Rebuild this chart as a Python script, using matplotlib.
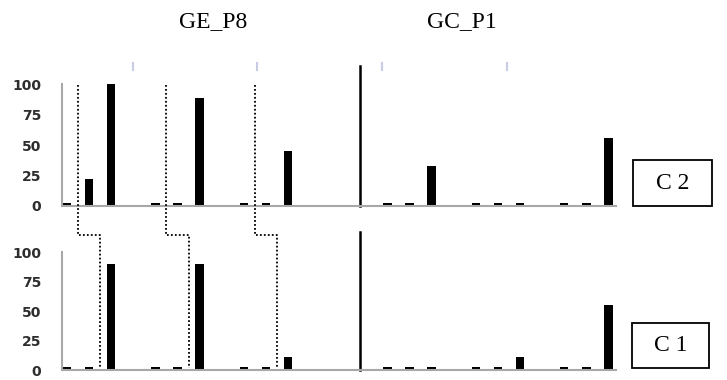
import matplotlib
matplotlib.use('Agg')
import matplotlib.pyplot as plt
from matplotlib.patches import Rectangle
from matplotlib.transforms import blended_transform_factory

# values, 3 bars per group, 3 groups per sample
group_names = ['GE_P8', 'GC_P1']
c2_ge = [2.5, 22, 100, 2.5, 2.5, 89, 2.5, 2.5, 45]
c2_gc = [2.5, 2.5, 33, 2.5, 2.5, 2.5, 2.5, 2.5, 56]
c1_ge = [2.5, 2.5, 90, 2.5, 2.5, 90, 2.5, 2.5, 11]
c1_gc = [2.5, 2.5, 2.5, 2.5, 2.5, 11, 2.5, 2.5, 55]
row_labels = ['C 2', 'C 1']
y_ticks = [0, 25, 50, 75, 100]

def bar_positions(values, start):
    # group of 3 bars, one empty slot between groups
    return [start + 4 * (i // 3) + i % 3 for i in range(len(values))]

fig = plt.figure(figsize=(7.27, 3.8), dpi=100)
ax_top = fig.add_axes([0.0853, 0.4579, 0.762, 0.3203])
ax_bot = fig.add_axes([0.0853, 0.0263, 0.762, 0.3097])

rows = [(ax_top, c2_ge, c2_gc), (ax_bot, c1_ge, c1_gc)]

for ax, ge, gc in rows:
    ax.bar(bar_positions(ge, 0), ge, width=0.38, color='black')
    ax.bar(bar_positions(gc, 14.5), gc, width=0.38, color='black')
    ax.set_xlim(-0.226, 24.84)
    ax.set_ylim(0, 100)
    ax.set_yticks(y_ticks)
    ax.set_xticks([])
    ax.tick_params(axis='y', length=0, pad=15, labelsize=10, labelcolor='#2e2e2e')
    for lbl in ax.get_yticklabels():
        lbl.set_fontweight('bold')
    for s in ['top', 'right']:
        ax.spines[s].set_visible(False)
    ax.spines['left'].set_color('#a8a8a8')
    ax.spines['bottom'].set_color('#a8a8a8')
    ax.spines['left'].set_linewidth(1.5)
    ax.spines['bottom'].set_linewidth(1.5)
    ax.patch.set_alpha(0)

# separator between the two samples
ax_top.plot([13.25, 13.25], [0, 115], color='black', lw=1.8, clip_on=False)
ax_bot.plot([13.25, 13.25], [0, 117], color='black', lw=1.8, clip_on=False)

# faint leftover ticks at the top
faint_ticks = [3.0, 8.6, 14.25, 19.9]
for x in faint_ticks:
    ax_top.plot([x, x], [111.5, 117.5], color='#c8cde4', lw=1.5, clip_on=False)

# dotted step lines linking the rows
trans = blended_transform_factory(ax_bot.transData, fig.transFigure)
for g in range(3):
    x1 = 4 * g + 0.5
    x2 = 4 * g + 1.5
    fig.add_artist(plt.Line2D([x1, x1, x2, x2], [0.776, 0.382, 0.382, 0.032],
                              transform=trans, color='black', lw=1.3,
                              linestyle=(0, (1, 1.2))))

fig.text(213 / 727, 1 - 22 / 380, group_names[0], ha='center', va='center',
         family='Liberation Serif', size=17)
fig.text(462 / 727, 1 - 22 / 380, group_names[1], ha='center', va='center',
         family='Liberation Serif', size=17)

boxes = [[0.8707, 0.4579, 0.1087, 0.121], [0.8693, 0.0316, 0.1059, 0.1184]]
for box, label in zip(boxes, row_labels):
    fig.add_artist(Rectangle((box[0], box[1]), box[2], box[3], transform=fig.transFigure,
                             fill=False, edgecolor='black', lw=1.3))
    fig.text(box[0] + box[2] / 2, box[1] + box[3] / 2, label, ha='center', va='center',
             family='Liberation Serif', size=17)

fig.savefig('out.png', dpi=100)
